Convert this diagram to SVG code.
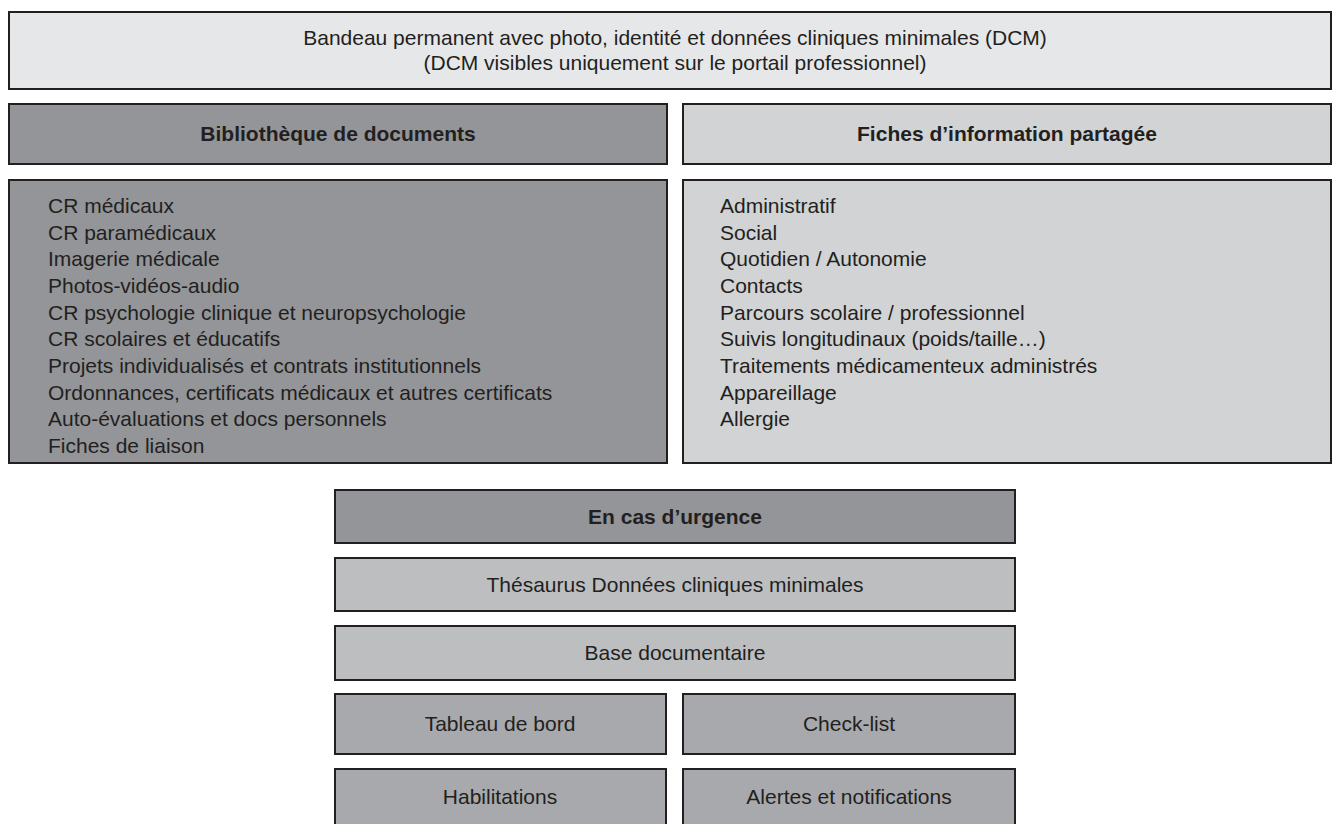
<svg xmlns="http://www.w3.org/2000/svg" width="1341" height="824" viewBox="0 0 1341 824">
<style>
rect{stroke:#231f20;stroke-width:2}
text{font-family:"Liberation Sans",Arial,sans-serif;font-size:21px;fill:#231f20}
.c{text-anchor:middle}
.b{font-weight:bold}
.light{fill:#e6e7e8}
.dark{fill:#939598}
.pale{fill:#d1d3d4}
.mid{fill:#bcbec0}
.med{fill:#a7a9ac}
</style>
<rect x="0" y="0" width="1341" height="824" style="fill:#fff;stroke:none"/>
<g id="banner">
<rect class="light" x="9" y="12" width="1322" height="77"/>
<text class="c" x="675" y="45">Bandeau permanent avec photo, identité et données cliniques minimales (DCM)</text>
<text class="c" x="675" y="70">(DCM visibles uniquement sur le portail professionnel)</text>
</g>
<g id="biblio-header">
<rect class="dark" x="9" y="104" width="658" height="60"/>
<text class="c b" x="338" y="141">Bibliothèque de documents</text>
</g>
<g id="fiches-header">
<rect class="pale" x="683" y="104" width="648" height="60"/>
<text class="c b" x="1007" y="141">Fiches d’information partagée</text>
</g>
<g id="biblio-list">
<rect class="dark" x="9" y="180" width="658" height="283"/>
<text x="48" y="213">CR médicaux</text>
<text x="48" y="240">CR paramédicaux</text>
<text x="48" y="266">Imagerie médicale</text>
<text x="48" y="293">Photos-vidéos-audio</text>
<text x="48" y="320">CR psychologie clinique et neuropsychologie</text>
<text x="48" y="346">CR scolaires et éducatifs</text>
<text x="48" y="373">Projets individualisés et contrats institutionnels</text>
<text x="48" y="400">Ordonnances, certificats médicaux et autres certificats</text>
<text x="48" y="426">Auto-évaluations et docs personnels</text>
<text x="48" y="453">Fiches de liaison</text>
</g>
<g id="fiches-list">
<rect class="pale" x="683" y="180" width="648" height="283"/>
<text x="720" y="213">Administratif</text>
<text x="720" y="240">Social</text>
<text x="720" y="266">Quotidien / Autonomie</text>
<text x="720" y="293">Contacts</text>
<text x="720" y="320">Parcours scolaire / professionnel</text>
<text x="720" y="346">Suivis longitudinaux (poids/taille…)</text>
<text x="720" y="373">Traitements médicamenteux administrés</text>
<text x="720" y="400">Appareillage</text>
<text x="720" y="426">Allergie</text>
</g>
<g id="urgence">
<rect class="dark" x="335" y="490" width="680" height="53"/>
<text class="c b" x="675" y="524">En cas d’urgence</text>
</g>
<g id="thesaurus">
<rect class="mid" x="335" y="558" width="680" height="53"/>
<text class="c" x="675" y="592">Thésaurus Données cliniques minimales</text>
</g>
<g id="base">
<rect class="mid" x="335" y="626" width="680" height="54"/>
<text class="c" x="675" y="660">Base documentaire</text>
</g>
<g id="tableau">
<rect class="med" x="335" y="694" width="331" height="60"/>
<text class="c" x="500" y="731">Tableau de bord</text>
</g>
<g id="checklist">
<rect class="med" x="683" y="694" width="332" height="60"/>
<text class="c" x="849" y="731">Check-list</text>
</g>
<g id="habilitations">
<rect class="med" x="335" y="769" width="331" height="60"/>
<text class="c" x="500" y="804">Habilitations</text>
</g>
<g id="alertes">
<rect class="med" x="683" y="769" width="332" height="60"/>
<text class="c" x="849" y="804">Alertes et notifications</text>
</g>
<g id="connectors"></g>
</svg>
